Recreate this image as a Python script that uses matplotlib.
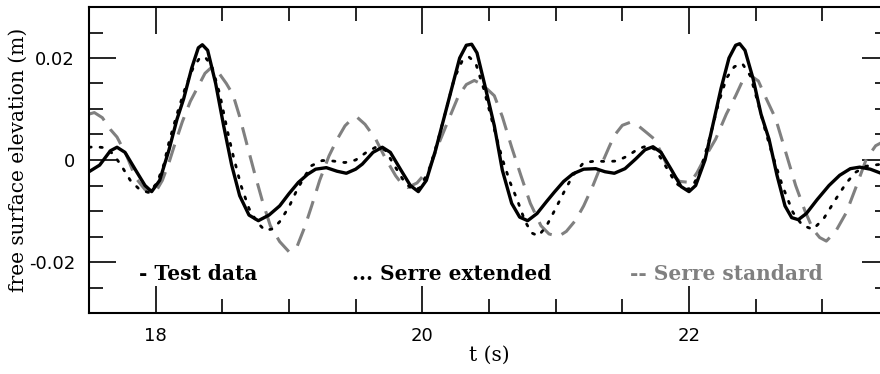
# Free surface elevation: test data vs. Serre models
import matplotlib
matplotlib.use('Agg')
import matplotlib.pyplot as plt
from matplotlib.ticker import MultipleLocator

## Datos (t en s, eta en m)
t_test = [17.50, 17.58, 17.66, 17.71, 17.77, 17.85, 17.92, 17.97, 18.03, 18.10,
          18.16, 18.21, 18.27, 18.32, 18.35, 18.39, 18.45, 18.51, 18.57, 18.63,
          18.70, 18.77, 18.85, 18.93, 19.00, 19.07, 19.14, 19.20, 19.28, 19.36,
          19.43, 19.50, 19.55, 19.63, 19.70, 19.76, 19.84, 19.91, 19.97, 20.03,
          20.10, 20.16, 20.22, 20.28, 20.33, 20.37, 20.41, 20.47, 20.54, 20.60,
          20.67, 20.73, 20.79, 20.86, 20.93, 20.99, 21.06, 21.13, 21.21, 21.30,
          21.37, 21.44, 21.52, 21.60, 21.67, 21.73, 21.79, 21.87, 21.94, 22.00,
          22.05, 22.12, 22.18, 22.24, 22.30, 22.35, 22.38, 22.42, 22.48, 22.54,
          22.60, 22.66, 22.72, 22.77, 22.82, 22.88, 22.96, 23.05, 23.13, 23.21,
          23.28, 23.36, 23.45]
eta_test = [-0.0023, -0.0010, 0.0018, 0.0025, 0.0015, -0.0020, -0.0050, -0.0062, -0.0040, 0.0020,
            0.0080, 0.0120, 0.0180, 0.0220, 0.0226, 0.0215, 0.0150, 0.0067, -0.0010, -0.0070,
            -0.0108, -0.0119, -0.0108, -0.0090, -0.0066, -0.0044, -0.0028, -0.0018, -0.0015, -0.0022,
            -0.0026, -0.0018, -0.0008, 0.0015, 0.0025, 0.0015, -0.0020, -0.0050, -0.0062, -0.0040,
            0.0020, 0.0080, 0.0140, 0.0200, 0.0225, 0.0227, 0.0210, 0.0145, 0.0067, -0.0020,
            -0.0085, -0.0112, -0.0119, -0.0105, -0.0082, -0.0063, -0.0042, -0.0027, -0.0018, -0.0017,
            -0.0023, -0.0026, -0.0017, 0.0002, 0.0020, 0.0026, 0.0015, -0.0020, -0.0052, -0.0062,
            -0.0050, 0.0000, 0.0070, 0.0140, 0.0200, 0.0225, 0.0228, 0.0215, 0.0160, 0.0090,
            0.0041, -0.0030, -0.0090, -0.0113, -0.0117, -0.0105, -0.0078, -0.0050, -0.0030, -0.0017,
            -0.0014, -0.0018, -0.0027]

t_ext = [17.50, 17.55, 17.62, 17.68, 17.74, 17.81, 17.88, 17.95, 18.01, 18.06,
         18.10, 18.16, 18.22, 18.28, 18.33, 18.37, 18.42, 18.48, 18.54, 18.58,
         18.64, 18.70, 18.76, 18.82, 18.88, 18.93, 19.00, 19.05, 19.11, 19.17,
         19.25, 19.33, 19.42, 19.50, 19.58, 19.65, 19.72, 19.80, 19.87, 19.93,
         19.98, 20.05, 20.12, 20.18, 20.24, 20.30, 20.35, 20.40, 20.46, 20.53,
         20.60, 20.66, 20.71, 20.77, 20.82, 20.87, 20.93, 21.00, 21.06, 21.13,
         21.21, 21.30, 21.38, 21.46, 21.54, 21.62, 21.69, 21.75, 21.82, 21.90,
         21.97, 22.02, 22.08, 22.13, 22.16, 22.22, 22.28, 22.34, 22.40, 22.46,
         22.52, 22.57, 22.62, 22.70, 22.78, 22.85, 22.93, 23.01, 23.10, 23.18,
         23.25, 23.33, 23.45]
eta_ext = [0.0025, 0.0026, 0.0024, 0.0012, -0.0010, -0.0040, -0.0058, -0.0064, -0.0045, -0.0010,
           0.0035, 0.0090, 0.0140, 0.0180, 0.0200, 0.0202, 0.0185, 0.0130, 0.0055, 0.0010,
           -0.0050, -0.0095, -0.0122, -0.0138, -0.0135, -0.0121, -0.0092, -0.0064, -0.0035, -0.0011,
           -0.0001, -0.0002, -0.0005, 0.0000, 0.0015, 0.0025, 0.0020, -0.0015, -0.0045, -0.0058,
           -0.0055, -0.0020, 0.0041, 0.0100, 0.0160, 0.0195, 0.0202, 0.0190, 0.0140, 0.0070,
           0.0002, -0.0045, -0.0077, -0.0120, -0.0143, -0.0149, -0.0130, -0.0095, -0.0064, -0.0030,
           -0.0005, -0.0002, -0.0003, -0.0002, 0.0008, 0.0022, 0.0028, 0.0020, -0.0010, -0.0045,
           -0.0058, -0.0055, -0.0025, 0.0020, 0.0048, 0.0110, 0.0160, 0.0183, 0.0189, 0.0165,
           0.0110, 0.0060, 0.0015, -0.0050, -0.0103, -0.0128, -0.0136, -0.0115, -0.0077, -0.0045,
           -0.0024, -0.0012, -0.0008]

t_std = [17.50, 17.54, 17.60, 17.66, 17.71, 17.78, 17.85, 17.92, 17.99, 18.05,
         18.10, 18.14, 18.20, 18.26, 18.31, 18.37, 18.42, 18.47, 18.53, 18.58,
         18.63, 18.68, 18.74, 18.80, 18.86, 18.93, 19.00, 19.06, 19.12, 19.17,
         19.23, 19.30, 19.36, 19.42, 19.47, 19.51, 19.57, 19.65, 19.72, 19.80,
         19.85, 19.89, 19.96, 20.05, 20.12, 20.20, 20.27, 20.33, 20.39, 20.45,
         20.54, 20.60, 20.67, 20.74, 20.81, 20.89, 20.95, 21.02, 21.08, 21.15,
         21.21, 21.28, 21.34, 21.40, 21.44, 21.50, 21.56, 21.62, 21.69, 21.74,
         21.80, 21.86, 21.93, 22.01, 22.06, 22.12, 22.20, 22.28, 22.35, 22.41,
         22.46, 22.52, 22.58, 22.65, 22.72, 22.80, 22.87, 22.93, 22.98, 23.03,
         23.10, 23.18, 23.25, 23.33, 23.40, 23.45]
eta_std = [0.0090, 0.0093, 0.0083, 0.0060, 0.0045, 0.0010, -0.0035, -0.0058, -0.0067, -0.0040,
           -0.0005, 0.0028, 0.0075, 0.0115, 0.0140, 0.0170, 0.0182, 0.0172, 0.0150, 0.0128,
           0.0085, 0.0035, -0.0024, -0.0080, -0.0129, -0.0160, -0.0180, -0.0170, -0.0130, -0.0090,
           -0.0040, 0.0008, 0.0040, 0.0067, 0.0080, 0.0084, 0.0070, 0.0041, 0.0005, -0.0031,
           -0.0048, -0.0054, -0.0045, -0.0018, 0.0030, 0.0081, 0.0125, 0.0148, 0.0156, 0.0148,
           0.0126, 0.0085, 0.0025, -0.0031, -0.0085, -0.0129, -0.0145, -0.0150, -0.0140, -0.0118,
           -0.0090, -0.0050, -0.0011, 0.0025, 0.0048, 0.0068, 0.0074, 0.0067, 0.0052, 0.0041,
           0.0010, -0.0025, -0.0042, -0.0044, -0.0025, 0.0005, 0.0041, 0.0090, 0.0126, 0.0160,
           0.0166, 0.0155, 0.0120, 0.0081, 0.0020, -0.0050, -0.0100, -0.0136, -0.0152, -0.0159,
           -0.0140, -0.0103, -0.0055, 0.0002, 0.0028, 0.0035]

gris = '#808080'

fig = plt.figure(figsize=(8.8, 3.74), dpi=100)
ax = fig.add_axes([89 / 880, 61 / 374, 800 / 880, 306 / 374])

ax.plot(t_std, eta_std, color=gris, lw=2.2, dashes=(6, 3.5))
ax.plot(t_ext, eta_ext, color='k', lw=2.0, linestyle=(0, (0.8, 3.2)),
        dash_capstyle='round')
ax.plot(t_test, eta_test, color='k', lw=2.4)

ax.set_xlim(17.5, 23.5)
ax.set_ylim(-0.03, 0.03)

ax.xaxis.set_minor_locator(MultipleLocator(0.5))
ax.yaxis.set_minor_locator(MultipleLocator(0.005))
ax.set_xticks([18, 20, 22])
ax.set_xticklabels(['18', '20', '22'])
ax.set_yticks([-0.02, 0, 0.02])
ax.set_yticklabels(['-0.02', '0', '0.02'])

ax.tick_params(which='both', direction='in', top=True, right=True,
               width=1.2, labelsize=13)
ax.tick_params(which='major', length=19.5, pad=10)
ax.tick_params(which='minor', length=9.8)
for s in ax.spines.values():
    s.set_linewidth(1.5)

ax.set_xlabel('t (s)', fontsize=14.5, family='DejaVu Serif', labelpad=1)
ax.set_ylabel('free surface elevation (m)', fontsize=14.5, family='DejaVu Serif')
ax.yaxis.set_label_coords(-0.077, 0.5)

## Leyenda escrita como texto dentro del grafico
ley = dict(fontsize=14.5, family='DejaVu Serif', weight='bold', va='center')
ax.text(17.875, -0.0224, '- Test data', color='k', **ley)
ax.text(19.475, -0.0224, '... Serre extended', color='k', **ley)
ax.text(21.56, -0.0224, '-- Serre standard', color=gris, **ley)

fig.savefig('out.png', dpi=100)
